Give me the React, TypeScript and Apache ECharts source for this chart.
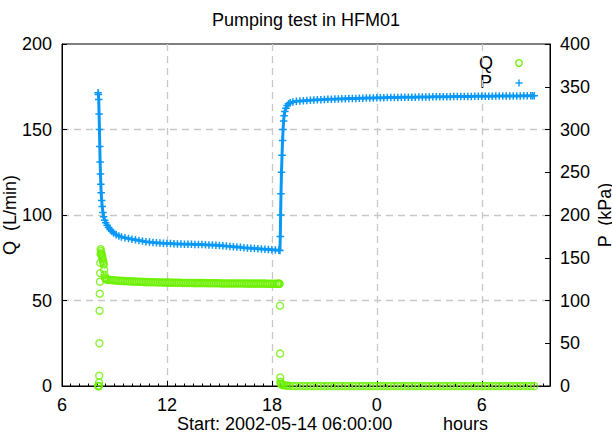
import React, { useEffect, useRef } from "react";
import * as echarts from "echarts";

const chartTitle = "Pumping test in HFM01";
const startLabel = "Start: 2002-05-14 06:00:00";
const xUnitLabel = "hours";
const qAxisName = "Q  (L/min)";
const pAxisName = "P  (kPa)";
const seriesNames = ["Q", "P"];

// x axis: hours since midnight of start day (labels shown modulo 24)
const X_MIN = 6;
const X_MAX = 33.9;
const X_STEP = 6;
const Q_MAX = 200;
const Q_STEP = 50;
const P_MAX = 400;
const P_STEP = 50;

// Flow rate Q (L/min): [hour, value]
const qData: [number, number][] = [
  [8.06, 0], [8.09, 0], [8.11, 0], [8.12, 2], [8.13, 6], [8.14, 25], [8.15, 44], [8.16, 54],
  [8.17, 61], [8.18, 66], [8.19, 72], [8.2, 77], [8.21, 80], [8.23, 79], [8.25, 78], [8.27, 77],
  [8.29, 76], [8.31, 75], [8.33, 74], [8.35, 73], [8.37, 72], [8.39, 71], [8.41, 68], [8.43, 65],
  [8.45, 63.5], [8.47, 63], [8.5, 62.5], [8.55, 62.3], [8.6, 62.2], [8.7, 62.1], [8.8, 62],
  [8.9, 61.9], [9.0, 61.8], [9.1, 61.7], [9.2, 61.6], [9.3, 61.5], [9.4, 61.5], [9.5, 61.4],
  [9.6, 61.4], [9.7, 61.3], [9.8, 61.3], [9.9, 61.2], [10.0, 61.2], [10.1, 61.1], [10.2, 61.1],
  [10.3, 61.0], [10.4, 61.0], [10.5, 60.9], [10.6, 60.9], [10.7, 60.8], [10.8, 60.8], [10.9, 60.8],
  [11.0, 60.8], [11.1, 60.7], [11.2, 60.7], [11.3, 60.7], [11.4, 60.7], [11.5, 60.6], [11.6, 60.6],
  [11.7, 60.6], [11.8, 60.6], [11.9, 60.5], [12.0, 60.5], [12.1, 60.5], [12.2, 60.5], [12.3, 60.4],
  [12.4, 60.4], [12.5, 60.4], [12.6, 60.4], [12.7, 60.4], [12.8, 60.4], [12.9, 60.3], [13.0, 60.3],
  [13.1, 60.3], [13.2, 60.3], [13.3, 60.3], [13.4, 60.3], [13.5, 60.2], [13.6, 60.2], [13.7, 60.2],
  [13.8, 60.2], [13.9, 60.2], [14.0, 60.2], [14.1, 60.2], [14.2, 60.2], [14.3, 60.1], [14.4, 60.1],
  [14.5, 60.1], [14.6, 60.1], [14.7, 60.1], [14.8, 60.1], [14.9, 60.1], [15.0, 60.1], [15.1, 60.0],
  [15.2, 60.0], [15.3, 60.0], [15.4, 60.0], [15.5, 60.0], [15.6, 60.0], [15.7, 60.0], [15.8, 60.0],
  [15.9, 60.0], [16.0, 60.0], [16.1, 60.0], [16.2, 60.0], [16.3, 60.0], [16.4, 60.0], [16.5, 59.9],
  [16.6, 59.9], [16.7, 59.9], [16.8, 59.9], [16.9, 59.9], [17.0, 59.9], [17.1, 59.9], [17.2, 59.9],
  [17.3, 59.9], [17.4, 59.9], [17.5, 59.9], [17.6, 59.9], [17.7, 59.8], [17.8, 59.8], [17.9, 59.8],
  [18.0, 59.8], [18.1, 59.8], [18.2, 59.8], [18.3, 59.8], [18.35, 59.8], [18.38, 59.8],
  [18.42, 59.8], [18.44, 59.8], [18.46, 47], [18.47, 19], [18.48, 5], [18.49, 2.5], [18.5, 1.5],
  [18.53, 1], [18.57, 0.8], [18.62, 0.6], [18.7, 0.4], [18.8, 0.3], [18.9, 0.2], [19.0, 0.1],
  [19.2, 0], [19.4, 0], [19.6, 0], [19.8, 0], [20.0, 0], [20.2, 0], [20.4, 0], [20.6, 0], [20.8, 0],
  [21.0, 0], [21.2, 0], [21.4, 0], [21.6, 0], [21.8, 0], [22.0, 0], [22.2, 0], [22.4, 0], [22.6, 0],
  [22.8, 0], [23.0, 0], [23.2, 0], [23.4, 0], [23.6, 0], [23.8, 0], [24.0, 0], [24.2, 0], [24.4, 0],
  [24.6, 0], [24.8, 0], [25.0, 0], [25.2, 0], [25.4, 0], [25.6, 0], [25.8, 0], [26.0, 0], [26.2, 0],
  [26.4, 0], [26.6, 0], [26.8, 0], [27.0, 0], [27.2, 0], [27.4, 0], [27.6, 0], [27.8, 0], [28.0, 0],
  [28.2, 0], [28.4, 0], [28.6, 0], [28.8, 0], [29.0, 0], [29.2, 0], [29.4, 0], [29.6, 0], [29.8, 0],
  [30.0, 0], [30.2, 0], [30.4, 0], [30.6, 0], [30.8, 0], [31.0, 0], [31.2, 0], [31.4, 0], [31.6, 0],
  [31.8, 0], [32.0, 0], [32.2, 0], [32.4, 0], [32.6, 0], [32.8, 0], [33.0, 0],
];

// Pressure P (kPa): [hour, value]
const pData: [number, number][] = [
  [8.06, 343], [8.08, 341], [8.1, 335], [8.12, 318], [8.14, 300], [8.16, 280], [8.18, 262],
  [8.2, 248], [8.22, 236], [8.24, 226], [8.27, 217], [8.3, 210], [8.34, 203], [8.38, 198],
  [8.44, 194], [8.5, 191], [8.58, 188], [8.66, 185.5], [8.75, 183], [8.85, 181], [8.95, 179],
  [9.1, 177], [9.25, 175.5], [9.4, 174.3], [9.6, 173.3], [9.8, 172.5], [10.0, 171.7], [10.2, 171],
  [10.4, 170.2], [10.6, 169.5], [10.8, 168.8], [11.0, 168.3], [11.2, 167.9], [11.4, 167.6],
  [11.6, 167.3], [11.8, 167], [12.0, 166.8], [12.2, 166.6], [12.4, 166.4], [12.6, 166.2],
  [12.8, 166], [13.0, 165.9], [13.2, 165.8], [13.4, 165.7], [13.6, 165.6], [13.8, 165.5],
  [14.0, 165.4], [14.2, 165.2], [14.4, 165], [14.6, 164.8], [14.8, 164.5], [15.0, 164.2],
  [15.2, 163.9], [15.4, 163.6], [15.6, 163.3], [15.8, 163], [16.0, 162.6], [16.2, 162.2],
  [16.4, 161.8], [16.6, 161.5], [16.8, 161.2], [17.0, 160.9], [17.2, 160.6], [17.4, 160.3],
  [17.6, 160], [17.8, 159.7], [18.0, 159.4], [18.2, 159.1], [18.4, 158.8], [18.46, 158.5],
  [18.48, 175], [18.5, 200], [18.52, 225], [18.55, 250], [18.58, 270], [18.61, 287], [18.64, 300],
  [18.67, 310], [18.7, 316], [18.74, 321], [18.8, 325], [18.87, 328], [18.95, 330], [19.05, 331.3],
  [19.2, 332.2], [19.4, 332.9], [19.6, 333.3], [19.8, 333.7], [20.0, 334], [20.2, 334.3],
  [20.4, 334.5], [20.6, 334.7], [20.8, 334.9], [21.0, 335.1], [21.2, 335.3], [21.4, 335.5],
  [21.6, 335.6], [21.8, 335.8], [22.0, 335.9], [22.2, 336], [22.4, 336.2], [22.6, 336.3],
  [22.8, 336.4], [23.0, 336.5], [23.2, 336.6], [23.4, 336.7], [23.6, 336.8], [23.8, 336.9],
  [24.0, 337], [24.2, 337.1], [24.4, 337.2], [24.6, 337.3], [24.8, 337.3], [25.0, 337.4],
  [25.2, 337.5], [25.4, 337.6], [25.6, 337.6], [25.8, 337.7], [26.0, 337.8], [26.2, 337.8],
  [26.4, 337.9], [26.6, 338], [26.8, 338], [27.0, 338.1], [27.2, 338.2], [27.4, 338.2],
  [27.6, 338.3], [27.8, 338.3], [28.0, 338.4], [28.2, 338.4], [28.4, 338.5], [28.6, 338.5],
  [28.8, 338.6], [29.0, 338.6], [29.2, 338.7], [29.4, 338.7], [29.6, 338.8], [29.8, 338.8],
  [30.0, 338.9], [30.2, 338.9], [30.4, 339], [30.6, 339], [30.8, 339.1], [31.0, 339.1],
  [31.2, 339.1], [31.4, 339.2], [31.6, 339.2], [31.8, 339.3], [32.0, 339.3], [32.2, 339.3],
  [32.4, 339.4], [32.6, 339.4], [32.8, 339.5], [32.9, 339.5], [33.0, 339.5],
];

const Q_COLOR = "#6cf000";
const P_COLOR = "#0898f8";
const FONT = "'Liberation Sans', Arial, Helvetica, sans-serif";

export default function App() {
  const ref = useRef<HTMLDivElement>(null);
  useEffect(() => {
    if (!ref.current) return;
    const chart = echarts.init(ref.current, null, { renderer: "svg" });
    const plusPath = "path://M0,4H10V6H0ZM4,0H6V10H4Z";
    const dashed = { color: "#c8c8c8", type: [7, 5], width: 1.3 };
    chart.setOption({
      animation: false,
      backgroundColor: "#ffffff",
      textStyle: { fontFamily: FONT },
      title: {
        text: chartTitle,
        left: "center",
        top: 6,
        textStyle: { fontSize: 18, fontWeight: "normal", color: "#000", fontFamily: FONT },
      },
      grid: {
        left: 62, right: 62, top: 44, bottom: 46,
        outerBoundsMode: "none",
        containLabel: false,
        show: true, borderColor: "#000", borderWidth: 1, backgroundColor: "transparent",
      },
      xAxis: {
        type: "value",
        min: X_MIN,
        max: X_MAX,
        interval: X_STEP,
        axisLine: { show: true, onZero: false, lineStyle: { color: "#000", width: 1 } },
        axisTick: { show: true, inside: true, length: 5, lineStyle: { color: "#000" } },
        minorTick: { show: true, splitNumber: 12, length: 2.5, lineStyle: { color: "#000" } },
        axisLabel: {
          fontSize: 18, lineHeight: 16, color: "#000", margin: 11, fontFamily: FONT,
          showMaxLabel: false,
          formatter: (v: number) => String(Math.round(v) % 24),
        },
        splitLine: { show: true, showMinLine: false, showMaxLine: false, lineStyle: dashed },
      },
      yAxis: [
        {
          type: "value", min: 0, max: Q_MAX, interval: Q_STEP, position: "left",
          name: qAxisName, nameLocation: "middle", nameGap: 44, nameRotate: 90,
          nameMoveOverlap: false,
          nameTextStyle: { fontSize: 18, lineHeight: 16, color: "#000", fontFamily: FONT },
          axisLine: { show: true, lineStyle: { color: "#000", width: 1 } },
          axisTick: { show: true, inside: true, length: 5, lineStyle: { color: "#000" } },
          axisLabel: { fontSize: 18, color: "#000", margin: 10, fontFamily: FONT },
          splitLine: { show: true, showMinLine: false, showMaxLine: false, lineStyle: dashed },
        },
        {
          type: "value", min: 0, max: P_MAX, interval: P_STEP, position: "right",
          name: pAxisName, nameLocation: "middle", nameGap: 47, nameRotate: 90,
          nameMoveOverlap: false,
          nameTextStyle: { fontSize: 18, lineHeight: 16, color: "#000", fontFamily: FONT },
          axisLine: { show: true, lineStyle: { color: "#000", width: 1 } },
          axisTick: { show: true, inside: true, length: 5, lineStyle: { color: "#000" } },
          axisLabel: { fontSize: 18, color: "#000", margin: 10, fontFamily: FONT },
          splitLine: { show: false },
        },
      ],
      series: [
        {
          name: seriesNames[0],
          type: "scatter",
          xAxisIndex: 0,
          yAxisIndex: 0,
          data: qData,
          symbol: "circle",
          symbolSize: 7,
          itemStyle: { color: "rgba(0,0,0,0)", borderColor: Q_COLOR, borderWidth: 1.4 },
          emphasis: { disabled: true },
        },
        {
          name: seriesNames[1],
          type: "line",
          xAxisIndex: 0,
          yAxisIndex: 1,
          data: pData,
          symbol: plusPath,
          symbolSize: 7.5,
          showSymbol: true,
          showAllSymbol: true,
          lineStyle: { color: P_COLOR, width: 3 },
          itemStyle: { color: P_COLOR },
          emphasis: { disabled: true },
        },
      ],
      graphic: [
        {
          type: "text", x: 493, y: 63,
          style: { text: seriesNames[0], font: `18px ${FONT}`, lineHeight: 16, fill: "#000", align: "right", verticalAlign: "middle" },
        },
        {
          type: "circle", shape: { cx: 519, cy: 63, r: 3.3 },
          style: { fill: "none", stroke: Q_COLOR, lineWidth: 1.3 },
        },
        {
          type: "text", x: 492, y: 82,
          style: { text: seriesNames[1], font: `18px ${FONT}`, lineHeight: 16, fill: "#000", align: "right", verticalAlign: "middle" },
        },
        {
          type: "line", shape: { x1: 515.5, y1: 83, x2: 522.5, y2: 83 },
          style: { stroke: P_COLOR, lineWidth: 1.4 },
        },
        {
          type: "line", shape: { x1: 519, y1: 79.5, x2: 519, y2: 86.5 },
          style: { stroke: P_COLOR, lineWidth: 1.4 },
        },
        {
          type: "text", x: 177, y: 423.5,
          style: { text: startLabel, font: `18px ${FONT}`, lineHeight: 16, fill: "#000", align: "left", verticalAlign: "middle" },
        },
        {
          type: "text", x: 443, y: 423.5,
          style: { text: xUnitLabel, font: `18px ${FONT}`, lineHeight: 16, fill: "#000", align: "left", verticalAlign: "middle" },
        },
      ],
    });
    return () => chart.dispose();
  }, []);
  return (
    <div
      ref={ref}
      style={{ position: "absolute", left: 0, top: 0, width: 612, height: 432 }}
    />
  );
}
